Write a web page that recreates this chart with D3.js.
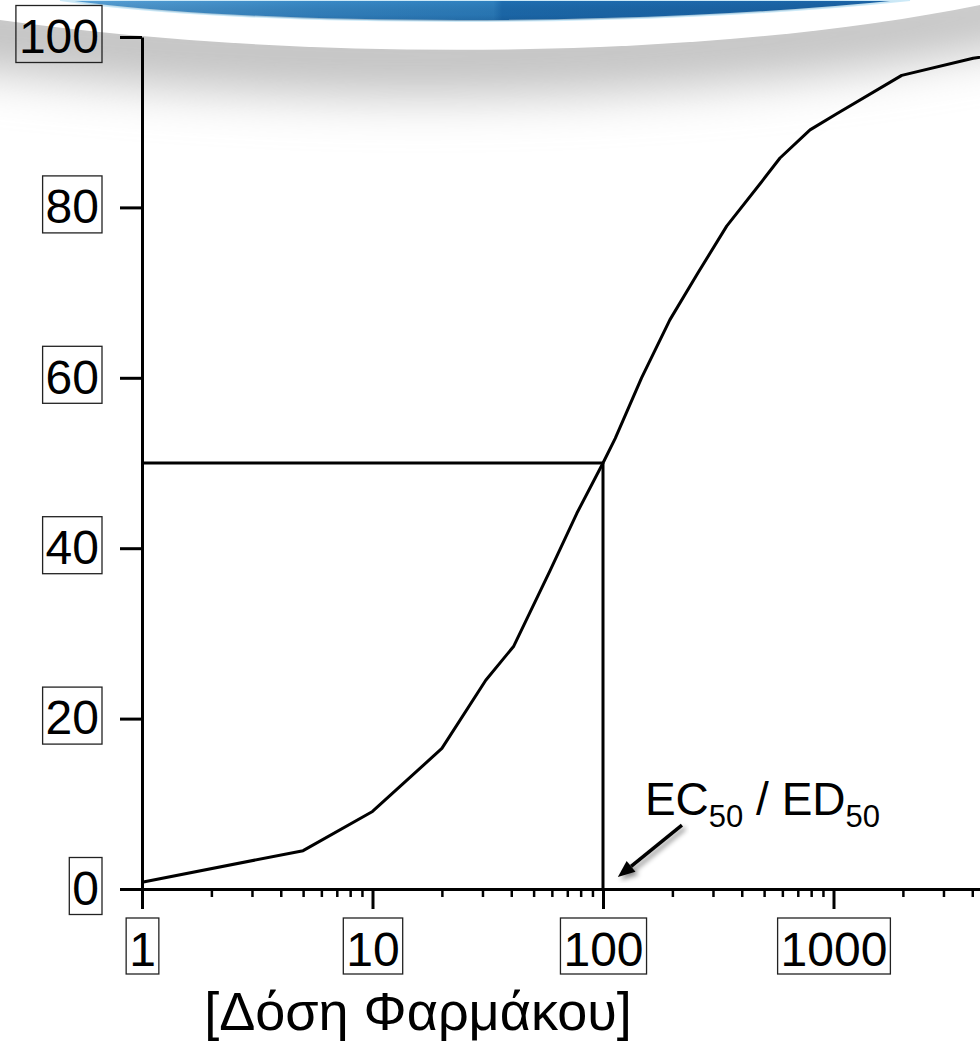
<!DOCTYPE html>
<html>
<head>
<meta charset="utf-8">
<script src="https://cdn.jsdelivr.net/npm/d3@7/dist/d3.min.js"></script>
<style>
  html, body { margin: 0; padding: 0; background: #fff; }
  svg { display: block; font-family: "Liberation Sans", Arial, sans-serif; }
</style>
</head>
<body>
<div id="graph"></div>
<script>
// dose-response curve
var doses     = [1, 5, 10, 20, 31, 41, 59, 77, 100, 113, 147, 195, 258, 344, 494, 586, 791, 1033, 1977, 4034, 10000];
var responses = [0.8, 4.5, 9.1, 16.5, 24.5, 28.5, 37.4, 44.1, 50, 52.9, 60, 66.8, 72.3, 77.8, 83.2, 85.8, 89.1, 91.0, 95.5, 97.5, 99];

var yTicks = [0, 20, 40, 60, 80, 100];
var xMajorTicks = [1, 10, 100, 1000];
var ec50 = 100;
var halfResponse = 50;
var xTitle = "[Δόση Φαρμάκου]";
var arrowFrom = {dose: 220, value: 7.5};
var arrowTo = {dose: 116, value: 1.4};
var labelAt = {dose: 152, value: 8.7};

var width = 980, height = 1042;

var x = d3.scaleLog().domain([1, 10000]).range([142, 1064]);
var y = d3.scaleLinear().domain([0, 100]).range([889, 37]);

var svg = d3.select("#graph").append("svg")
  .attr("width", width)
  .attr("height", height);

var defs = svg.append("defs");

var blueGrad = defs.append("linearGradient").attr("id", "blue").attr("x1", 0).attr("x2", 1).attr("y1", 0).attr("y2", 0);
blueGrad.append("stop").attr("offset", "0%").attr("stop-color", "#5aa3d8");
blueGrad.append("stop").attr("offset", "30%").attr("stop-color", "#3a8cca");
blueGrad.append("stop").attr("offset", "51%").attr("stop-color", "#2f83c3");
blueGrad.append("stop").attr("offset", "52%").attr("stop-color", "#1f70b4");
blueGrad.append("stop").attr("offset", "100%").attr("stop-color", "#1b64a8");

var rimGrad = defs.append("linearGradient").attr("id", "rim").attr("x1", 0).attr("x2", 0).attr("y1", 0).attr("y2", 1);
rimGrad.append("stop").attr("offset", "0%").attr("stop-color", "#000").attr("stop-opacity", 0);
rimGrad.append("stop").attr("offset", "70%").attr("stop-color", "#0a3a6a").attr("stop-opacity", 0.2);
rimGrad.append("stop").attr("offset", "100%").attr("stop-color", "#0a3a6a").attr("stop-opacity", 0.35);

defs.append("filter").attr("id", "blur")
  .attr("filterUnits", "userSpaceOnUse")
  .attr("x", -200).attr("y", -200).attr("width", 1400).attr("height", 500)
  .append("feGaussianBlur").attr("stdDeviation", 24);

defs.append("filter").attr("id", "shadow")
  .append("feDropShadow").attr("dx", 3).attr("dy", 3).attr("stdDeviation", 2.5)
  .attr("flood-color", "#000").attr("flood-opacity", 0.45);

// slide decoration: gray shadow under a white band, blue banner on top
svg.append("path")
  .attr("d", "M-100,-20 C300,32 700,32 1080,-35 L1080,30 C700,112 300,112 -100,60 Z")
  .attr("fill", "#c2c2c2")
  .attr("filter", "url(#blur)");
svg.append("path")
  .attr("d", "M-10,-10 L990,-10 L990,2 L980,5 C700,62 300,62 0,20 L-10,18 Z")
  .attr("fill", "#fff");
svg.append("path")
  .attr("d", "M60,0 C250,28 650,28 910,0 Z")
  .attr("fill", "url(#blue)")
  .attr("stroke", "#cdeaf8")
  .attr("stroke-width", 2);
svg.append("path")
  .attr("d", "M60,0 C250,28 650,28 910,0 Z")
  .attr("fill", "url(#rim)");

// EC50 guide lines
svg.append("line")
  .attr("x1", x(1)).attr("x2", x(ec50))
  .attr("y1", y(halfResponse)).attr("y2", y(halfResponse))
  .attr("stroke", "#000").attr("stroke-width", 3);
svg.append("line")
  .attr("x1", x(ec50)).attr("x2", x(ec50))
  .attr("y1", y(halfResponse)).attr("y2", y(0))
  .attr("stroke", "#000").attr("stroke-width", 3);

// curve
var data = doses.map(function (d, i) { return {dose: d, value: responses[i]}; });
var line = d3.line()
  .x(function (d) { return x(d.dose); })
  .y(function (d) { return y(d.value); });
svg.append("path")
  .datum(data)
  .attr("d", line)
  .attr("fill", "none")
  .attr("stroke", "#000")
  .attr("stroke-width", 3)
  .attr("stroke-linejoin", "round");

// minor x ticks
var minorTicks = x.ticks().filter(function (t) { return xMajorTicks.indexOf(t) === -1; });
var xMinor = svg.append("g")
  .attr("transform", "translate(0," + y(0) + ")")
  .call(d3.axisBottom(x).tickValues(minorTicks).tickSize(8).tickFormat(""));
xMinor.select(".domain").remove();
xMinor.selectAll("line").attr("stroke-width", 2.5);

// major x axis
var xAxis = svg.append("g")
  .attr("transform", "translate(0," + y(0) + ")")
  .call(d3.axisBottom(x).tickValues(xMajorTicks).tickSize(20).tickSizeOuter(0).tickPadding(23).tickFormat(d3.format("d")));
xAxis.select(".domain").attr("stroke-width", 3);
xAxis.selectAll("line").attr("stroke-width", 3);
xAxis.selectAll("text").attr("font-size", 48).attr("font-family", "Liberation Sans, Arial, sans-serif").attr("fill", "#000");

// y axis
var yAxis = svg.append("g")
  .attr("transform", "translate(" + x(1) + ",0)")
  .call(d3.axisLeft(y).tickValues(yTicks).tickSize(22).tickSizeOuter(0).tickPadding(21).tickFormat(d3.format("d")));
yAxis.select(".domain").attr("stroke-width", 3);
yAxis.selectAll("line").attr("stroke-width", 3);
yAxis.selectAll("text").attr("font-size", 48).attr("font-family", "Liberation Sans, Arial, sans-serif").attr("fill", "#000");

// boxes round the tick labels
function boxLabels(sel, top, boxHeight) {
  sel.each(function () {
    var b = this.getBBox();
    d3.select(this.parentNode).insert("rect", "text")
      .attr("x", b.x - 3).attr("y", top)
      .attr("width", b.width + 6).attr("height", boxHeight)
      .attr("fill", "none").attr("stroke", "#222").attr("stroke-width", 1.3);
  });
}
boxLabels(xAxis.selectAll("text"), 29, 56);
boxLabels(yAxis.selectAll("text"), -32, 57);

// x title
svg.append("text")
  .attr("x", 418)
  .attr("y", 1030)
  .attr("text-anchor", "middle")
  .attr("font-size", 54)
  .text(xTitle);

// EC50 / ED50 annotation
var ann = svg.append("text")
  .attr("x", x(labelAt.dose))
  .attr("y", y(labelAt.value))
  .attr("font-size", 46);
ann.append("tspan").text("EC");
ann.append("tspan").attr("font-size", 31).attr("dy", 12).text("50");
ann.append("tspan").attr("dy", -12).text(" / ED");
ann.append("tspan").attr("font-size", 31).attr("dy", 12).text("50");

// arrow
var ax1 = x(arrowFrom.dose), ay1 = y(arrowFrom.value);
var ax2 = x(arrowTo.dose), ay2 = y(arrowTo.value);
var ang = Math.atan2(ay2 - ay1, ax2 - ax1);
var headLen = 17, headW = 7;
var bx = ax2 - headLen * Math.cos(ang), by = ay2 - headLen * Math.sin(ang);
var arrow = svg.append("g").attr("filter", "url(#shadow)");
arrow.append("line")
  .attr("x1", ax1).attr("y1", ay1).attr("x2", bx).attr("y2", by)
  .attr("stroke", "#000").attr("stroke-width", 3.5);
arrow.append("path")
  .attr("d", "M" + ax2 + "," + ay2 +
    "L" + (bx + headW * Math.sin(ang)) + "," + (by - headW * Math.cos(ang)) +
    "L" + (bx - headW * Math.sin(ang)) + "," + (by + headW * Math.cos(ang)) + "Z")
  .attr("fill", "#000");
</script>
</body>
</html>
